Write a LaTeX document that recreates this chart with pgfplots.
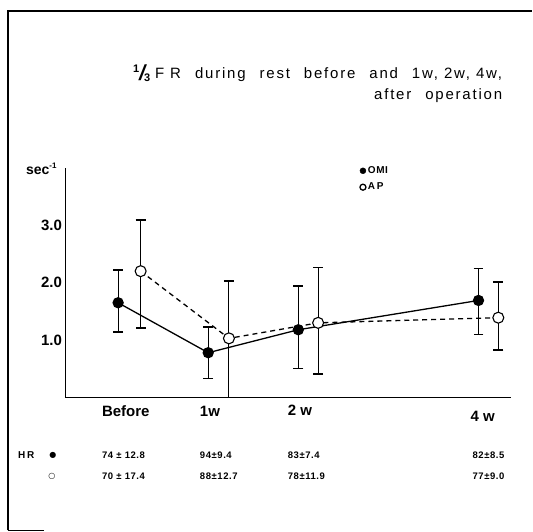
\documentclass[border=0pt]{standalone}
\usepackage{pgfplots}
\pgfplotsset{compat=1.18}
\usepackage{graphicx}
\usepackage{fontspec}
\setmainfont{Liberation Sans}
\newfontfamily\titlefont[LetterSpace=12]{Liberation Sans}
\newfontfamily\smallfont[LetterSpace=6]{Liberation Sans}
\newfontfamily\symfont{DejaVu Sans}

\begin{document}
\begin{tikzpicture}[x=1pt,y=1pt]
\begin{axis}[
  scale only axis,
  width=446.5pt, height=230pt,
  xmin=-0.585, xmax=4.365, ymin=0, ymax=4,
  axis x line=bottom, axis y line=left,
  axis line style={-, line width=1.4pt},
  xtick=\empty,
  ytick={1,2,3}, yticklabels={1.0,2.0,3.0},
  major tick length=0pt,
  yticklabel style={font=\bfseries\fontsize{15}{15}\selectfont},
  clip=false,
  legend style={draw=none, fill=none, at={(0.66,1.015)}, anchor=north west,
    font=\smallfont\bfseries\fontsize{10}{10}\selectfont, row sep=4pt, inner sep=0pt},
  legend cell align=left,
  legend image code/.code={\draw[#1] plot coordinates {(0.1cm,0cm)};},
]
\coordinate (O) at (rel axis cs:0,0);
% AP (dashed, open circles)
\addplot[forget plot, black, line width=1.3pt, dash pattern=on 5pt off 4pt,
  mark=*, mark size=5.5pt, mark options={fill=white, solid, line width=1.1pt},
  error bars/.cd, y dir=both, y explicit,
  error bar style={line width=1.1pt, solid},
  error mark options={rotate=90, line width=1.4pt, mark size=5pt}]
coordinates {
  (0.25,2.20) += (0,0.89) -= (0,0.99)
  (1.23,1.03) += (0,1.00) -= (0,1.03)
  (2.22,1.30) += (0,0.96) -= (0,0.89)
  (4.22,1.39) += (0,0.62) -= (0,0.56)
};
% OMI (solid, filled circles)
\addplot[forget plot, black, line width=1.3pt,
  mark=*, mark size=5pt, mark options={fill=black, solid},
  error bars/.cd, y dir=both, y explicit,
  error bar style={line width=1.1pt, solid},
  error mark options={rotate=90, line width=1.4pt, mark size=5pt}]
coordinates {
  (0,1.65) += (0,0.57) -= (0,0.51)
  (1,0.78) += (0,0.45) -= (0,0.45)
  (2,1.18) += (0,0.76) -= (0,0.68)
  (4,1.69) += (0,0.56) -= (0,0.59)
};
\addlegendimage{only marks, mark=*, mark size=3pt, black}
\addlegendentry{OMI}
\addlegendimage{only marks, mark=*, mark size=3pt, black, mark options={fill=white, line width=1.3pt}}
\addlegendentry{A\,P}
\end{axis}

\begin{scope}[shift={(O)}, xshift=-65.5pt, yshift=-134pt]
\path (0,0) rectangle (533,532);
% frame
\draw[line width=1.3pt] (8,1) -- (8,521) -- (533,521);
\draw[line width=1.3pt] (8,1) -- (44,1);

% y unit
\node[anchor=base west, font=\bfseries\fontsize{14}{14}\selectfont, inner sep=0pt] at (26,357)
  {sec\raisebox{6pt}{\fontsize{8}{8}\selectfont -1}};

% title
\node[anchor=base east, inner sep=0pt, font=\titlefont\fontsize{15}{15}\selectfont] at (503,453)
  {{\raisebox{6pt}{\fontsize{11}{11}\selectfont\bfseries 1}\kern-1pt\raisebox{-2pt}{\scalebox{2.1}[1.45]{/}}\kern-3pt\raisebox{-3pt}{\fontsize{11}{11}\selectfont\bfseries 3}}\kern5pt
   F R\hspace{14pt}during\hspace{14pt}rest\hspace{14pt}before\hspace{14pt}and\hspace{14pt}1w, 2w, 4w,};
\node[anchor=base east, inner sep=0pt, font=\titlefont\fontsize{15}{15}\selectfont] at (503,432)
  {after\hspace{14pt}operation};

% category labels
\node[anchor=base west, inner sep=0pt, font=\bfseries\fontsize{15}{15}\selectfont] at (102,114.5) {Before};
\node[anchor=base west, inner sep=0pt, font=\bfseries\fontsize{15}{15}\selectfont] at (200,114.5) {1w};
\node[anchor=base west, inner sep=0pt, font=\bfseries\fontsize{15}{15}\selectfont] at (288,115.5) {2 w};
\node[anchor=base west, inner sep=0pt, font=\bfseries\fontsize{15}{15}\selectfont] at (471,110) {4 w};

% heart rate rows
\node[anchor=west, inner sep=0pt, font=\smallfont\bfseries\fontsize{10}{10}\selectfont] at (18,76) {H\,R};
\node[inner sep=0pt, font=\symfont\fontsize{8}{8}\selectfont] at (53,76) {●};
\node[inner sep=0pt, font=\symfont\fontsize{8}{8}\selectfont] at (52,55) {○};
\begin{scope}[every node/.style={anchor=west, inner sep=0pt, font=\smallfont\bfseries\fontsize{9.5}{9.5}\selectfont}]
\node at (102,76) {74 ± 12.8};
\node at (200,76) {94±9.4};
\node at (288,76) {83±7.4};
\node at (473,76) {82±8.5};
\node at (102,55) {70 ± 17.4};
\node at (200,55) {88±12.7};
\node at (288,55) {78±11.9};
\node at (473,55) {77±9.0};
\end{scope}
\end{scope}
\end{tikzpicture}
\end{document}
